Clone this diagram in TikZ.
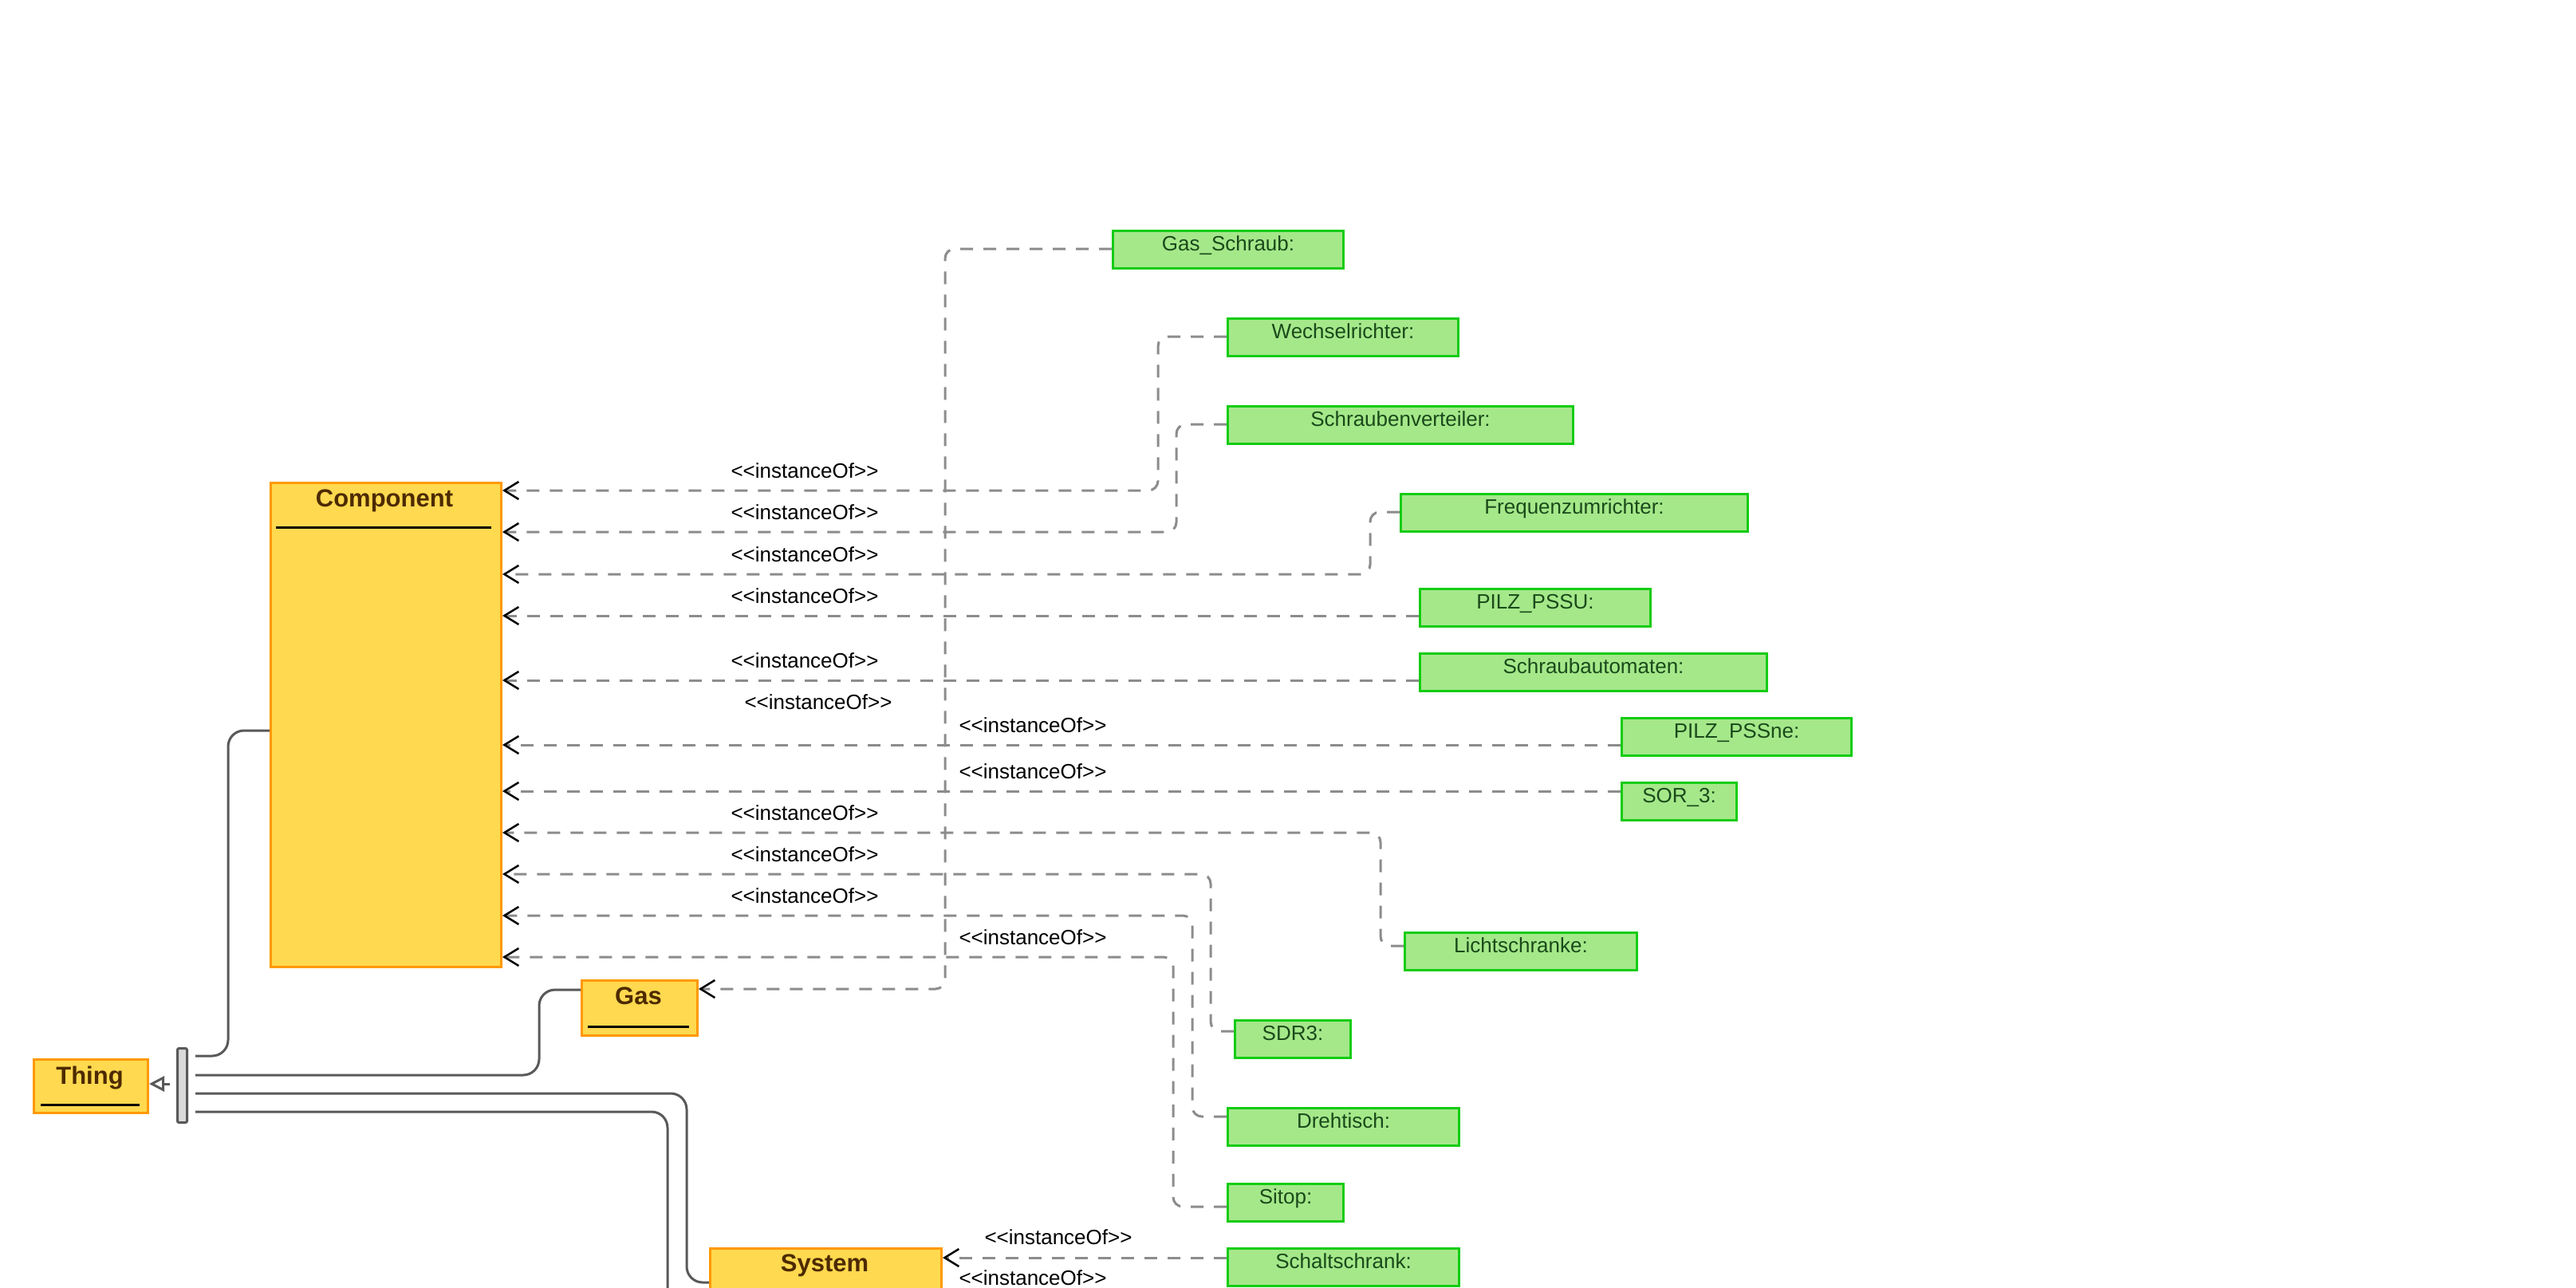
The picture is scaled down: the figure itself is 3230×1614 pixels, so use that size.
\documentclass[tikz,border=0pt]{standalone}
\usepackage{fontspec}
\setmainfont{Liberation Sans}
\usetikzlibrary{arrows.meta}

\definecolor{clsfill}{HTML}{FFD94F}
\definecolor{clsline}{HTML}{FF9900}
\definecolor{clstext}{HTML}{4D2A00}
\definecolor{objfill}{HTML}{A5E88A}
\definecolor{objline}{HTML}{14CC14}
\definecolor{objtext}{HTML}{1A4A1A}
\definecolor{dashgray}{HTML}{8C8C8C}
\definecolor{solidgray}{HTML}{595959}
\definecolor{barfill}{HTML}{D9D9D9}

\tikzset{
  cls/.style={draw=clsline, fill=clsfill, line width=3pt, anchor=north west, inner sep=0pt},
  obj/.style={draw=objline, fill=objfill, line width=3pt, anchor=north west, inner sep=0pt, minimum height=47pt},
  clstitle/.style={anchor=base, text=clstext, font=\fontsize{31pt}{36pt}\selectfont\bfseries, inner sep=0pt},
  objtitle/.style={anchor=base, text=objtext, font=\fontsize{26pt}{30pt}\selectfont, inner sep=0pt},
  stereo/.style={anchor=base, text=black, font=\fontsize{26pt}{30pt}\selectfont, inner sep=0pt},
  inst/.style={draw=dashgray, line width=3pt, dash pattern=on 16pt off 13pt, rounded corners=12pt,
    -{Straight Barb[length=18pt,width=22pt,line width=2.5pt,color=black]}},
  sub/.style={draw=solidgray, line width=3pt, rounded corners=20pt, shorten <=9pt},
  uline/.style={draw=black, line width=3pt},
}

\begin{document}
\begin{tikzpicture}[x=1pt, y=-1pt]
\path[use as bounding box, fill=white] (0,0) rectangle (3230,1614);
\clip (0,0) rectangle (3230,1614);

% ---- classes ----
\node[cls, minimum width=289pt, minimum height=607pt] (comp) at (338,604) {};
\node[clstitle] (compT) at (482,635) {Component};
\draw[uline] (346,661) -- (616,661);

\node[cls, minimum width=143pt, minimum height=67pt] (thing) at (41,1327) {};
\node[clstitle] (thingT) at (112.5,1359) {Thing};
\draw[uline] (51,1385) -- (175,1385);

\node[cls, minimum width=145pt, minimum height=69pt] (gas) at (728,1228) {};
\node[clstitle] (gasT) at (800.5,1259) {Gas};
\draw[uline] (737,1287) -- (864,1287);

\node[cls, minimum width=290pt, minimum height=120pt] (sys) at (889,1564) {};
\node[clstitle] (sysT) at (1034,1594) {System};

% ---- generalization bar ----
\node[draw=solidgray, fill=barfill, line width=3pt, rounded corners=2pt, anchor=north west,
      inner sep=0pt, minimum width=12pt, minimum height=93pt] (bar) at (221,1313) {};
\draw[draw=solidgray, line width=3pt, shorten <=8pt,
      -{Triangle[length=19pt,width=19pt,fill=white,line width=3pt]}]
  (bar.west |- 0,1359) -- (thing.east |- 0,1359);

\draw[sub] (bar.east |- 0,1324) -- (286,1324) -- (286,916) -- (comp.west |- 0,916);
\draw[sub] (bar.east |- 0,1348) -- (676,1348) -- (676,1241) -- (gas.west |- 0,1241);
\draw[sub] (bar.east |- 0,1371) -- (861,1371) -- (861,1608) -- (sys.west |- 0,1608);
\draw[sub] (bar.east |- 0,1394) -- (837,1394) -- (837,1700);

% ---- instances ----
\node[obj, minimum width=289pt] (gs) at (1394,288) {};
\node[objtitle] (gsT) at ([yshift=-26pt]gs.north) {Gas\_Schraub:};
\node[obj, minimum width=289pt] (we) at (1538,398) {};
\node[objtitle] (weT) at ([yshift=-26pt]we.north) {Wechselrichter:};
\node[obj, minimum width=433pt] (sv) at (1538,508) {};
\node[objtitle] (svT) at ([yshift=-26pt]sv.north) {Schraubenverteiler:};
\node[obj, minimum width=435pt] (fr) at (1755,618) {};
\node[objtitle] (frT) at ([yshift=-26pt]fr.north) {Frequenzumrichter:};
\node[obj, minimum width=289pt] (pu) at (1779,737) {};
\node[objtitle] (puT) at ([yshift=-26pt]pu.north) {PILZ\_PSSU:};
\node[obj, minimum width=435pt] (sa) at (1779,818) {};
\node[objtitle] (saT) at ([yshift=-26pt]sa.north) {Schraubautomaten:};
\node[obj, minimum width=288pt] (pn) at (2032,899) {};
\node[objtitle] (pnT) at ([yshift=-26pt]pn.north) {PILZ\_PSSne:};
\node[obj, minimum width=144pt] (so) at (2032,980) {};
\node[objtitle] (soT) at ([yshift=-26pt]so.north) {SOR\_3:};
\node[obj, minimum width=291pt] (li) at (1760,1168) {};
\node[objtitle] (liT) at ([yshift=-26pt]li.north) {Lichtschranke:};
\node[obj, minimum width=145pt] (sd) at (1547,1278) {};
\node[objtitle] (sdT) at ([yshift=-26pt]sd.north) {SDR3:};
\node[obj, minimum width=290pt] (dr) at (1538,1388) {};
\node[objtitle] (drT) at ([yshift=-26pt]dr.north) {Drehtisch:};
\node[obj, minimum width=145pt] (si) at (1538,1483) {};
\node[objtitle] (siT) at ([yshift=-26pt]si.north) {Sitop:};
\node[obj, minimum width=290pt] (sc) at (1538,1564) {};
\node[objtitle] (scT) at ([yshift=-26pt]sc.north) {Schaltschrank:};

% ---- instanceOf dependencies ----
\draw[inst] (gs.west |- 0,312) -- (1185,312) -- (1185,1240) -- (gas.east |- 0,1240);
\draw[inst] (we.west |- 0,422) -- (1452,422) -- (1452,615) -- (comp.east |- 0,615);
\draw[inst] (sv.west |- 0,532) -- (1475,532) -- (1475,667) -- (comp.east |- 0,667);
\draw[inst] (fr.west |- 0,642) -- (1718,642) -- (1718,720) -- (comp.east |- 0,720);
\draw[inst] (pu.west |- 0,772) -- (comp.east |- 0,772);
\draw[inst] (sa.west |- 0,853) -- (comp.east |- 0,853);
\draw[inst] (pn.west |- 0,934) -- (comp.east |- 0,934);
\draw[inst] (so.west |- 0,992) -- (comp.east |- 0,992);
\draw[inst] (li.west |- 0,1186) -- (1731,1186) -- (1731,1044) -- (comp.east |- 0,1044);
\draw[inst] (sd.west |- 0,1293) -- (1518,1293) -- (1518,1096) -- (comp.east |- 0,1096);
\draw[inst] (dr.west |- 0,1400) -- (1495,1400) -- (1495,1148) -- (comp.east |- 0,1148);
\draw[inst] (si.west |- 0,1513) -- (1471,1513) -- (1471,1200) -- (comp.east |- 0,1200);
\draw[inst] (sc.west |- 0,1577) -- (sys.east |- 0,1577);

% ---- stereotype labels ----
\node[stereo] (s1) at (1009,599) {<{}<instanceOf>{}>};
\node[stereo] (s2) at (1009,651) {<{}<instanceOf>{}>};
\node[stereo] (s3) at (1009,704) {<{}<instanceOf>{}>};
\node[stereo] (s4) at (1009,756) {<{}<instanceOf>{}>};
\node[stereo] (s5) at (1009,837) {<{}<instanceOf>{}>};
\node[stereo] (s6) at (1026,889) {<{}<instanceOf>{}>};
\node[stereo] (s7) at (1295,918) {<{}<instanceOf>{}>};
\node[stereo] (s8) at (1295,976) {<{}<instanceOf>{}>};
\node[stereo] (s9) at (1009,1028) {<{}<instanceOf>{}>};
\node[stereo] (s10) at (1009,1080) {<{}<instanceOf>{}>};
\node[stereo] (s11) at (1009,1132) {<{}<instanceOf>{}>};
\node[stereo] (s12) at (1295,1184) {<{}<instanceOf>{}>};
\node[stereo] (s13) at (1327,1560) {<{}<instanceOf>{}>};
\node[stereo] (s14) at (1295,1611) {<{}<instanceOf>{}>};
\end{tikzpicture}
\end{document}
